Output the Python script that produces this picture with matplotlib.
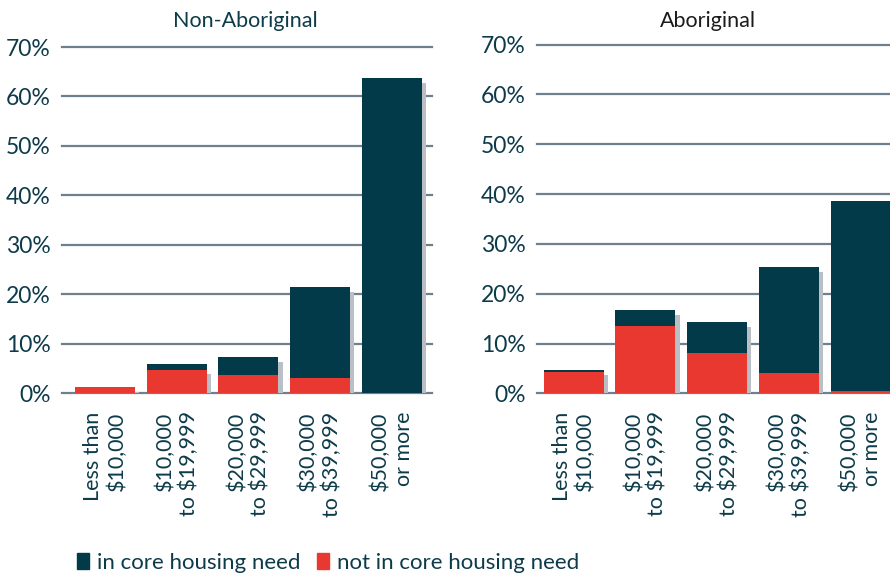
import matplotlib
matplotlib.use("Agg")
import matplotlib.pyplot as plt
from matplotlib.patches import Patch

plt.rcParams["font.family"] = ["Lato", "DejaVu Sans"]

# income brackets, shared by both panels
income_labels = [
    "Less than\n$10,000",
    "$10,000\nto $19,999",
    "$20,000\nto $29,999",
    "$30,000\nto $39,999",
    "$50,000\nor more",
]

# Non-Aboriginal: total bar height and the red (not in need) part
non_total = [1.3, 5.9, 7.4, 21.5, 63.8]
non_not_need = [1.3, 4.7, 3.7, 3.1, 0.0]
non_shadow = [0.3, 3.9, 6.4, 20.5, 62.8]

# Aboriginal
abo_total = [4.7, 16.7, 14.3, 25.4, 38.6]
abo_not_need = [4.3, 13.5, 8.1, 4.1, 0.5]
abo_shadow = [3.7, 15.7, 13.3, 24.4, 37.6]

y_ticks = [0, 10, 20, 30, 40, 50, 60, 70]

DARK = "#023a4a"
RED = "#e8382f"
SHADOW = "#b9bfc5"
GRID = "#6f7f8b"
TEXT = "#0d3b4a"

W, H = 890, 575


def draw_panel(ax, total, not_need, shadow, xlim):
    x = list(range(len(total)))
    in_need = [t - n for t, n in zip(total, not_need)]
    width = 0.836
    for yv in y_ticks:
        ax.axhline(yv, color=GRID, linewidth=1.6, zorder=1, clip_on=False)
    ax.bar([v + 0.06 for v in x], shadow, width=width, color=SHADOW, zorder=2)
    ax.bar(x, not_need, width=width, color=RED, zorder=3)
    ax.bar(x, in_need, width=width, bottom=not_need, color=DARK, zorder=3)
    ax.set_xlim(*xlim)
    ax.set_ylim(0, 70)
    ax.set_yticks(y_ticks)
    ax.set_yticklabels([f"{v}%" for v in y_ticks], fontsize=16.5, color=TEXT)
    ax.set_xticks(x)
    ax.set_xticklabels(income_labels, rotation=90, fontsize=15.5, color=TEXT,
                       multialignment="right", linespacing=1.2)
    ax.tick_params(axis="both", length=0)
    ax.tick_params(axis="y", pad=8)
    ax.tick_params(axis="x", pad=13)
    for s in ax.spines.values():
        s.set_visible(False)


fig = plt.figure(figsize=(W / 100, H / 100), dpi=100)

# axes rectangles from pixel positions
ax1 = fig.add_axes([62 / W, (H - 393.3) / H, 370 / W, 346.3 / H])
ax2 = fig.add_axes([537 / W, (H - 393.3) / H, 363 / W, 348.6 / H])

draw_panel(ax1, non_total, non_not_need, non_shadow, (-0.6, 4.56))
draw_panel(ax2, abo_total, abo_not_need, abo_shadow, (-0.51, 4.55))

fig.text(245 / W, 1 - 21 / H, "Non-Aboriginal", ha="center", va="center",
         fontsize=15.5, color=TEXT)
fig.text(708 / W, 1 - 21 / H, "Aboriginal", ha="center", va="center",
         fontsize=15.5, color="#1b1b1b")

handles = [Patch(color=DARK, label="in core housing need"),
           Patch(color=RED, label="not in core housing need")]
fig.legend(handles=handles, loc="center left", bbox_to_anchor=(77 / W, 1 - 563 / H),
           ncol=2, frameon=False, fontsize=16, handlelength=0.55, handleheight=0.7,
           handletextpad=0.35, columnspacing=0.75, labelcolor=TEXT,
           borderaxespad=0, borderpad=0)

fig.savefig("out.png", dpi=100)
